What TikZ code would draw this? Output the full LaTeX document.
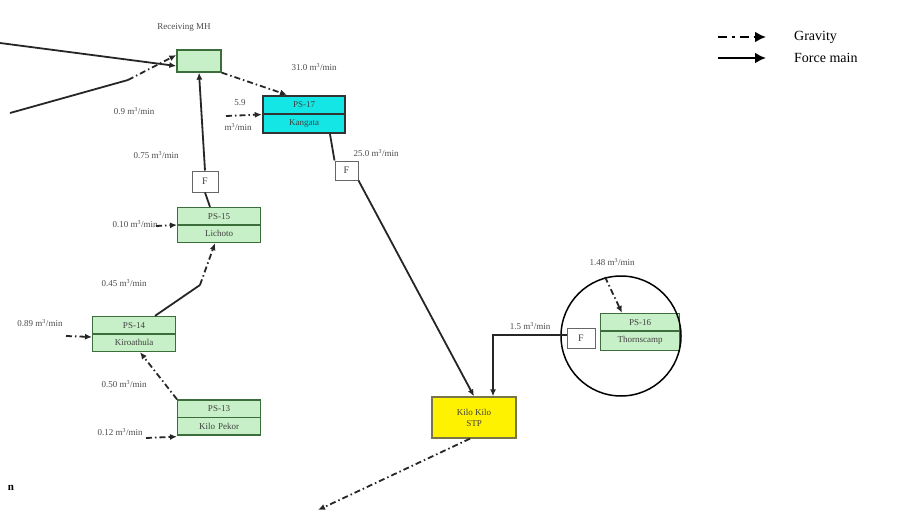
\documentclass[tikz,border=0pt]{standalone}
\usepackage{fontspec}
\setmainfont{Liberation Serif}
\usetikzlibrary{arrows.meta,shapes.multipart,calc}
\definecolor{boxgreen}{RGB}{200,240,200}
\definecolor{edgegreen}{RGB}{60,110,60}
\definecolor{boxcyan}{RGB}{20,230,230}
\begin{document}
\begin{tikzpicture}[x=1pt,y=-1pt,
  lbl/.style={font=\fontsize{9}{10}\selectfont, inner sep=0pt, text=black!70},
  psbox/.style={rectangle split, rectangle split parts=2, draw=edgegreen, fill=boxgreen, line width=1.3pt,
    text width=76pt, align=center, inner ysep=5pt, font=\fontsize{9}{10}\selectfont, text=black!75},
  fbox/.style={draw=black!60, fill=white, line width=1pt, font=\fontsize{10}{11}\selectfont, inner sep=0pt, text=black!75},
  force/.style={line width=1.8pt, black!85, -{Latex[length=7pt,width=6pt]}},
  forceline/.style={line width=1.8pt, black!85},
  grav/.style={line width=1.8pt, black!85, dash pattern=on 6pt off 3pt on 1.5pt off 3pt, -{Latex[length=7pt,width=6pt]}},
  gravline/.style={line width=1.8pt, black!85, dash pattern=on 6pt off 3pt on 1.5pt off 3pt}
]
\useasboundingbox[fill=white] (0,0) rectangle (907,532);

% Receiving MH
\node[lbl] (recvlbl) at (184,27) {Receiving MH};
\node[draw=edgegreen, fill=boxgreen, line width=1.3pt, minimum width=44pt, minimum height=22pt, inner sep=0pt] (recv) at (199,61) {};

% Pump station boxes
\node[psbox, fill=boxcyan, draw=black!80, line width=1.8pt] (kang) at (304,114.5) {PS-17\nodepart{two}Kangata};
\node[psbox] (ps15) at (219,225) {PS-15\nodepart{two}Lichoto};
\node[psbox] (ps14) at (134,334) {PS-14\nodepart{two}Kiroathula};
\node[psbox] (ps13) at (219,417.5) {PS-13\nodepart{two}Kilo Pekor};
\node[psbox, text width=72pt] (ps16) at (640,332) {PS-16\nodepart{two}Thornscamp};
\node[draw=black!60!yellow, fill=yellow, line width=1.3pt, minimum width=84pt, minimum height=41pt, align=center,
  font=\fontsize{9}{11}\selectfont, text=black!75, inner sep=0pt] (stp) at (474,417.5) {Kilo Kilo\\STP};

% F boxes
\node[fbox, minimum width=26pt, minimum height=21pt] (f1) at (205,181.5) {F};
\node[fbox, minimum width=23pt, minimum height=19pt] (f2) at (346.5,170.5) {F};
\node[fbox, minimum width=28pt, minimum height=20pt] (f3) at (581,338) {F};

% circle
\draw[line width=1.5pt] (621,336) circle (60);

% labels
\node[lbl] (l31) at (314,67) {31.0 m\textsuperscript{3}/min};
\node[lbl] (l09) at (134,111) {0.9 m\textsuperscript{3}/min};
\node[lbl] (l59a) at (240,103) {5.9};
\node[lbl] (l59b) at (238,127) {m\textsuperscript{3}/min};
\node[lbl] (l075) at (156,155) {0.75 m\textsuperscript{3}/min};
\node[lbl] (l25) at (376,153) {25.0 m\textsuperscript{3}/min};
\node[lbl] (l010) at (135,224) {0.10 m\textsuperscript{3}/min};
\node[lbl] (l045) at (124,283) {0.45 m\textsuperscript{3}/min};
\node[lbl] (l089) at (40,323) {0.89 m\textsuperscript{3}/min};
\node[lbl] (l050) at (124,384) {0.50 m\textsuperscript{3}/min};
\node[lbl] (l012) at (120,432) {0.12 m\textsuperscript{3}/min};
\node[lbl] (l15) at (530,326) {1.5 m\textsuperscript{3}/min};
\node[lbl] (l148) at (612,262) {1.48 m\textsuperscript{3}/min};

% coordinates for free ends
\coordinate (in1) at (0,43);
\coordinate (in2) at (10,113);
\coordinate (in2b) at (128,80);
\coordinate (c59) at (226,116);
\coordinate (c010) at (156,226);
\coordinate (c089) at (66,336);
\coordinate (c012) at (146,438);
\coordinate (c148) at (605,277);
\coordinate (m45) at (200,285);
\coordinate (bend) at (493,335);
\coordinate (outend) at (318,510);

% connectors
\draw[force] (in1) -- ([yshift=-5pt]recv.west);
\draw[forceline] (in2) -- (in2b);
\draw[grav] (in2b) -- ([yshift=6pt]recv.west);
\draw[grav] (recv.south east) -- ([xshift=-17pt]kang.north);
\draw[grav] (c59) -- (kang.west);
\draw[force] (f1.north) -- (recv.south);
\draw[forceline] ([xshift=-9pt]ps15.north) -- (f1.south);
\draw[forceline] ([xshift=26pt]kang.south) -- (f2.north west);
\draw[force] (f2.south east) -- (stp.north);
\draw[grav] (c010) -- (ps15.west);
\draw[forceline] ([xshift=21pt]ps14.north) -- (m45);
\draw[grav] (m45) -- ([xshift=-4pt]ps15.south);
\draw[grav] (c089) -- ([yshift=-3pt]ps14.west);
\draw[grav] (ps13.north west) -- ([xshift=6pt]ps14.south);
\draw[grav] (c012) -- ([yshift=-1pt]ps13.south west);
\draw[force] (f3.west |- bend) -- (bend) -- (stp.north -| bend);
\draw[grav] (c148) -- ([xshift=-18pt]ps16.north);
\draw[grav] ([xshift=-4pt]stp.south) -- (outend);

% stray text
\node[font=\fontsize{11}{12}\selectfont\bfseries, inner sep=0pt] (ntext) at (11,488) {n};

% legend
\coordinate (lg1a) at (718,37);
\coordinate (lg1b) at (766,37);
\coordinate (lg2a) at (718,58);
\coordinate (lg2b) at (766,58);
\draw[line width=2.6pt, dash pattern=on 9pt off 5pt on 2.5pt off 5pt, -{Latex[length=11pt,width=11pt]}] (lg1a) -- (lg1b);
\draw[line width=2.6pt, -{Latex[length=11pt,width=11pt]}] (lg2a) -- (lg2b);
\node[font=\fontsize{14}{16}\selectfont, anchor=west, inner sep=0pt] (lgg) at (794,37) {Gravity};
\node[font=\fontsize{14}{16}\selectfont, anchor=west, inner sep=0pt] (lgf) at (794,58) {Force main};
\end{tikzpicture}
\end{document}
